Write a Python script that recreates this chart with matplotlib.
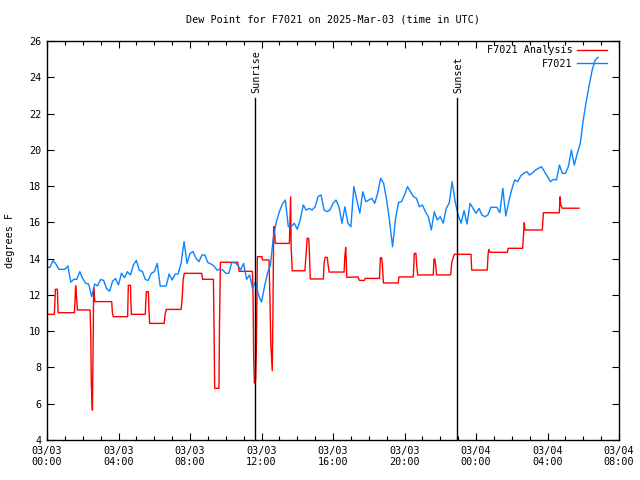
import matplotlib
matplotlib.use("Agg")
import matplotlib.pyplot as plt
import numpy as np

title = "Dew Point for F7021 on 2025-Mar-03 (time in UTC)"
ylabel = "degrees F"

# Observed dew point (F7021), 10-minute samples starting 03/03 00:00 UTC
obs_step_hours = 1.0 / 6.0
obs_values = [
    13.52, 13.52, 13.89, 13.70, 13.41, 13.41, 13.41, 13.60, 12.70, 12.86,
    12.86, 13.28, 12.90, 12.64, 12.60, 11.90, 12.60, 12.50, 12.85, 12.80,
    12.35, 12.20, 12.75, 12.90, 12.55, 13.20, 12.95, 13.28, 13.10, 13.65,
    13.90, 13.35, 13.30, 12.85, 12.80, 13.19, 13.28, 13.74, 12.49, 12.49,
    12.49, 13.15, 12.82, 13.15, 13.15, 13.74, 14.94, 13.74, 14.29, 14.39,
    14.02, 13.83, 14.20, 14.20, 13.78, 13.71, 13.60, 13.37, 13.41, 13.37,
    13.19, 13.19, 13.78, 13.78, 13.65, 13.37, 13.74, 12.86, 13.10, 12.36,
    12.73, 11.99, 11.60, 12.45, 13.19, 13.65, 15.21, 16.04, 16.59, 17.01,
    17.23, 15.76, 15.76, 15.95, 15.62, 16.13, 16.96, 16.68, 16.77, 16.68,
    16.86, 17.42, 17.51, 16.68, 16.59, 16.68, 17.05, 17.23, 16.86, 15.95,
    16.86, 15.95, 15.76, 17.97, 17.23, 16.50, 17.69, 17.14, 17.23, 17.33,
    17.05, 17.60, 18.43, 18.15, 17.23, 16.04, 14.66, 16.22, 17.10, 17.14,
    17.51, 17.97, 17.69, 17.42, 17.33, 16.86, 16.96, 16.59, 16.31, 15.58,
    16.59, 16.13, 16.31, 15.95, 16.77, 17.05, 18.24, 17.14, 16.41, 15.95,
    16.65, 15.91, 17.05, 16.77, 16.50, 16.77, 16.41, 16.31, 16.41, 16.83,
    16.83, 16.83, 16.53, 17.88, 16.35, 17.14, 17.82, 18.34, 18.24, 18.56,
    18.70, 18.80, 18.61, 18.74, 18.89, 18.98, 19.07, 18.80, 18.52, 18.24,
    18.37, 18.34, 19.16, 18.70, 18.70, 19.07, 19.99, 19.16, 19.80, 20.36,
    21.64, 22.66, 23.57, 24.40, 24.95, 25.10,
]

# Analysis (F7021 Analysis): hours since 03/03 00:00 and values
ana_hours = [
    0.00, 0.41, 0.44, 0.47, 0.58, 0.62, 1.53, 1.57, 1.60, 1.63, 1.70, 2.41,
    2.45, 2.48, 2.54, 2.58, 2.61, 2.68, 3.62, 3.66, 3.71, 4.51, 4.53, 4.55,
    4.67, 4.69, 4.72, 5.50, 5.52, 5.56, 5.67, 5.69, 5.74, 6.56, 6.60, 6.67,
    7.50, 7.55, 7.62, 7.68, 8.65, 8.71, 9.31, 9.35, 9.38, 9.62, 9.65, 9.70,
    10.67, 10.75, 11.49, 11.53, 11.56, 11.60, 11.67, 11.71, 11.77, 12.03,
    12.05, 12.42, 12.47, 12.52, 12.60, 12.64, 12.68, 12.72, 12.77, 13.56,
    13.63, 13.66, 13.72, 14.43, 14.52, 14.55, 14.64, 14.67, 14.73, 15.46,
    15.50, 15.56, 15.68, 15.72, 15.78, 16.62, 16.66, 16.71, 16.73, 16.77,
    17.40, 17.48, 17.75, 17.80, 18.60, 18.65, 18.72, 18.76, 18.82, 19.65,
    19.69, 20.49, 20.55, 20.64, 20.68, 20.74, 21.61, 21.65, 21.70, 21.74,
    21.80, 22.58, 22.65, 22.79, 23.72, 23.76, 24.63, 24.68, 24.72, 24.78,
    25.75, 25.80, 26.61, 26.64, 26.70, 26.74, 27.71, 27.77, 28.66, 28.70,
    28.74, 28.83, 29.76,
]
ana_values = [
    10.93, 10.93, 11.63, 12.31, 12.31, 11.02, 11.02, 11.70, 12.50, 12.20, 11.17, 11.17,
    9.79, 7.09, 5.65, 9.07, 12.40, 11.63, 11.63, 11.00, 10.80, 10.80, 11.70, 12.53,
    12.53, 11.70, 10.93, 10.93, 11.50, 12.18, 12.18, 11.50, 10.43, 10.43, 10.89, 11.20,
    11.20, 11.63, 12.86, 13.19, 13.19, 12.86, 12.86, 9.84, 6.85, 6.85, 10.34, 13.80,
    13.80, 13.30, 13.30, 11.81, 8.69, 7.14, 7.30, 8.87, 14.11, 14.11,
    13.93, 13.93, 11.90, 9.33, 7.82, 11.00, 15.76, 15.76, 14.84, 14.84,
    17.41, 14.60, 13.33, 13.33, 14.60, 15.12, 15.12, 14.60, 12.88, 12.88,
    13.74, 14.07, 14.07, 13.70, 13.26, 13.26, 14.10, 14.62, 14.20, 12.97,
    12.99, 12.80, 12.80, 12.91, 12.91, 14.05, 14.05, 13.70, 12.66, 12.66,
    12.99, 12.99, 14.29, 14.29, 13.65, 13.10, 13.10, 13.98, 13.98, 13.65,
    13.10, 13.10, 13.83, 14.24, 14.24, 13.37, 13.37, 14.29, 14.51, 14.35,
    14.35, 14.57, 14.57, 15.03, 15.98, 15.58, 15.58, 16.53, 16.53, 17.41,
    16.96, 16.78, 16.78,
]

events = ["Sunrise", "Sunset"]
event_hours = [11.64, 22.94]

xtick_hours = [0, 4, 8, 12, 16, 20, 24, 28, 32]
xtick_labels = ["03/03\n00:00", "03/03\n04:00", "03/03\n08:00", "03/03\n12:00",
                "03/03\n16:00", "03/03\n20:00", "03/04\n00:00", "03/04\n04:00",
                "03/04\n08:00"]
yticks = [4, 6, 8, 10, 12, 14, 16, 18, 20, 22, 24, 26]

plt.rcParams['font.family'] = ['DejaVu Sans Mono', 'DejaVu Sans']
fs = 7.3

fig = plt.figure(figsize=(6.4, 4.8), dpi=100)
ax = fig.add_axes([47/640, 40/480, (619-47)/640, (440-41)/480])

obs_hours = np.arange(len(obs_values)) * obs_step_hours
ax.plot(ana_hours, ana_values, color='#ff0000', lw=1.0, label='F7021 Analysis')
ax.plot(obs_hours, obs_values, color='#0a84ff', lw=1.0, label='F7021')

for name, h in zip(events, event_hours):
    ax.plot([h, h], [4, 22.86], color='black', lw=1.0)
    ax.text(h + 0.1, 23.13, name, rotation=90, ha='center', va='bottom', fontsize=fs)

ax.set_xlim(0, 32)
ax.set_ylim(4, 26)
ax.set_xticks(xtick_hours)
ax.set_xticklabels(xtick_labels, fontsize=fs)
ax.set_xticks(np.arange(0, 33, 1), minor=True)
ax.set_yticks(yticks)
ax.set_yticklabels([str(v) for v in yticks], fontsize=fs)
ax.tick_params(axis='both', which='both', direction='in', top=True, right=True, color='black')
ax.tick_params(axis='both', which='major', length=5, width=0.8, pad=4)
ax.tick_params(axis='x', which='minor', length=3, width=0.8)
for s in ax.spines.values():
    s.set_linewidth(1.0)

ax.set_title(title, fontsize=fs, pad=13)
ax.set_ylabel(ylabel, fontsize=fs, labelpad=10)

leg = ax.legend(loc='upper right', frameon=False, markerfirst=False, fontsize=fs,
                handlelength=3.0, handletextpad=0.4, labelspacing=0.35,
                borderaxespad=0.0, bbox_to_anchor=(0.9865, 1.0))

fig.savefig("out.png", dpi=100)
